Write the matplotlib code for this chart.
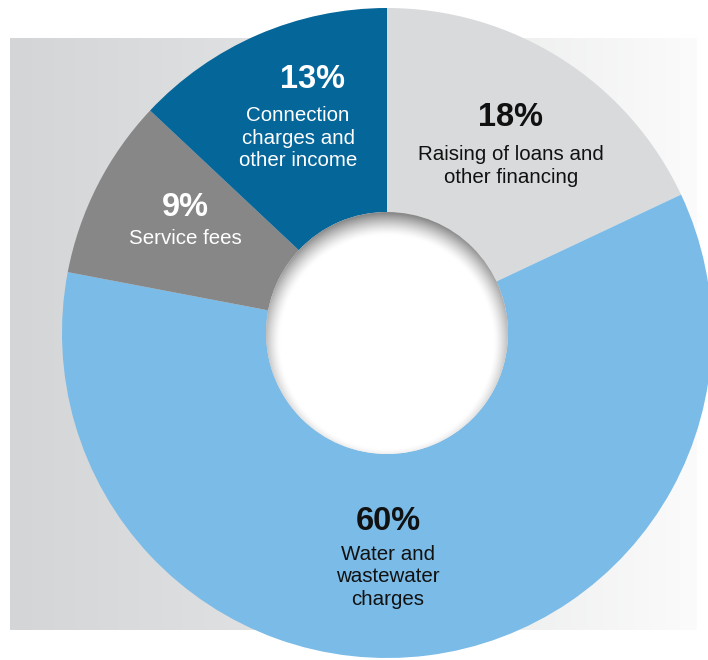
import numpy as np
import matplotlib.pyplot as plt
from matplotlib.patches import Circle
from matplotlib.colors import LinearSegmentedColormap

plt.rcParams['font.family'] = ['Liberation Sans', 'DejaVu Sans']

# Dane (kolejnosc zgodnie z ruchem wskazowek zegara od godziny 12)
shares = [18, 60, 9, 13]
pct_labels = ["18%", "60%", "9%", "13%"]
names = ["Raising of loans and\nother financing",
         "Water and\nwastewater\ncharges",
         "Service fees",
         "Connection\ncharges and\nother income"]
colors = ["#d9dadc", "#7abbe7", "#878787", "#05669a"]
text_colors = ["#111111", "#111111", "white", "white"]

W, H = 708, 660
fig = plt.figure(figsize=(W / 100, H / 100), dpi=100)
ax = fig.add_axes([0, 0, 1, 1])

# tlo z gradientem
grad = np.linspace(0, 1, 256).reshape(1, -1)
cmap_bg = LinearSegmentedColormap.from_list("bg", ["#d4d5d7", "#e4e5e6", "#fbfbfb"])
ax.imshow(grad, cmap=cmap_bg, extent=[10, 697, H - 630, H - 38], aspect="auto", zorder=0)

cx, cy = 387, H - 333
r_out, r_in = 325, 121

wedges, _ = ax.pie(shares, colors=colors, startangle=90, counterclock=False,
                   center=(cx, cy), radius=r_out, frame=True,
                   wedgeprops=dict(width=r_out - r_in, linewidth=0))
for w in wedges:
    w.set_zorder(1)

# otwor z miekkim cieniem wewnetrznym (gradient radialny, przesuniety w dol)
n = 400
xs = np.linspace(cx - r_in, cx + r_in, n)
ys = np.linspace(cy + r_in, cy - r_in, n)
X, Y = np.meshgrid(xs, ys)
d = np.hypot(X - cx, Y - (cy - 9))
shade = np.clip((d - (r_in - 14)) / 22, 0, 1) ** 1.4
cmap_hole = LinearSegmentedColormap.from_list("hole", ["#ffffff", "#8a8a8a"])
im = ax.imshow(shade, cmap=cmap_hole, vmin=0, vmax=1,
               extent=[cx - r_in, cx + r_in, cy - r_in, cy + r_in], zorder=3)
hole = Circle((cx, cy), r_in, transform=ax.transData)
im.set_clip_path(hole)

ax.set_xlim(0, W)
ax.set_ylim(0, H)
ax.set_aspect("auto")
ax.axis("off")

# etykiety (pozycje w pikselach obrazu)
pct_pos = [(511, 118), (388, 521), (185, 207), (312, 79)]
name_pos = [(511, 166), (388, 577), (185, 238), (298, 138)]
for i in range(len(shares)):
    ax.text(pct_pos[i][0], H - pct_pos[i][1], pct_labels[i], ha="center", va="center",
            fontsize=23.5, fontweight="bold", color=text_colors[i], zorder=5)
    ax.text(name_pos[i][0], H - name_pos[i][1], names[i], ha="center", va="center",
            fontsize=14.8, color=text_colors[i], linespacing=1.22, zorder=5)

fig.savefig("out.png", dpi=100, facecolor="white")
